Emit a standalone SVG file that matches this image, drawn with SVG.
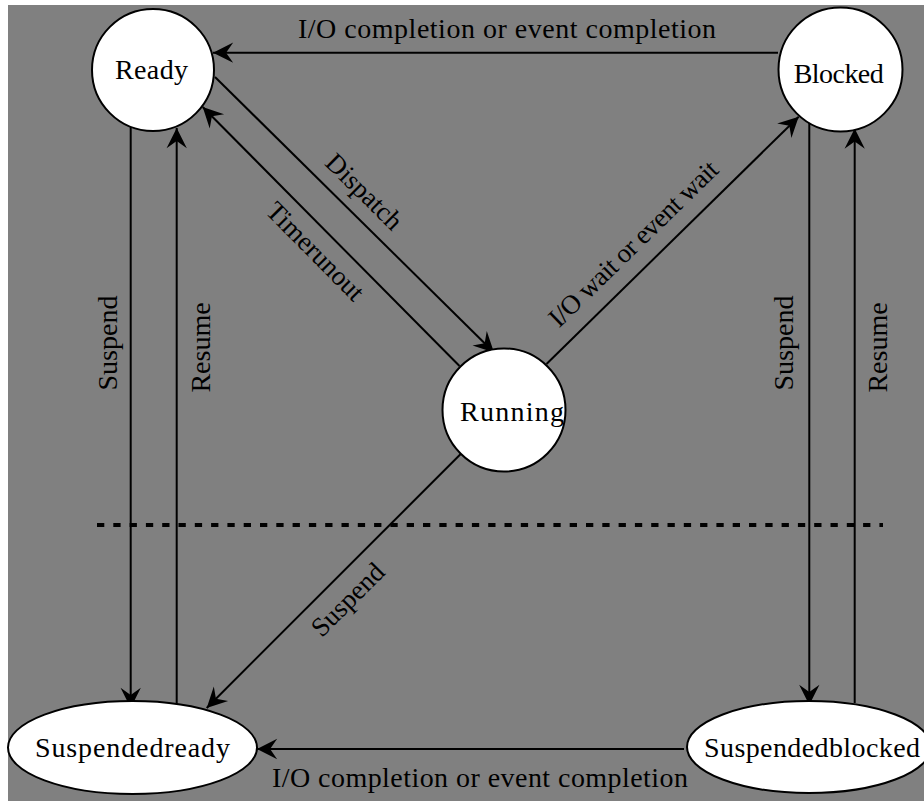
<svg xmlns="http://www.w3.org/2000/svg" width="924" height="801" viewBox="0 0 924 801">
<defs>
<style>
text{font-family:"Liberation Serif","Times New Roman",serif;font-size:28px;fill:#000}
.dl{font-size:27px}
.node{fill:#fff;stroke:#000;stroke-width:2}
.edge{stroke:#000;stroke-width:2;fill:none}
</style>
<marker id="arr" markerUnits="userSpaceOnUse" markerWidth="24" markerHeight="24" viewBox="-20 -10 22 20" refX="0" refY="0" orient="auto">
<path d="M0,0 L-18.5,-9.3 L-12,0 L-18.5,9.3 Z" fill="#000"/>
</marker>
</defs>
<rect x="0" y="0" width="924" height="801" fill="#fff"/>
<rect x="8" y="5" width="916" height="796" fill="#808080"/>
<line x1="97" y1="525" x2="883" y2="525" stroke="#000" stroke-width="4" stroke-dasharray="7.3 9"/>
<g id="connectors">
<line class="edge" x1="778" y1="52.7" x2="213" y2="52.7" marker-end="url(#arr)"/>
<line class="edge" x1="130.7" y1="126" x2="130.7" y2="708" marker-end="url(#arr)"/>
<line class="edge" x1="176.7" y1="704" x2="176.7" y2="128" marker-end="url(#arr)"/>
<line class="edge" x1="809.3" y1="122" x2="809.3" y2="705" marker-end="url(#arr)"/>
<line class="edge" x1="854.7" y1="703" x2="854.7" y2="128.5" marker-end="url(#arr)"/>
<line class="edge" x1="215" y1="77" x2="494" y2="352.5" marker-end="url(#arr)"/>
<line class="edge" x1="459.5" y1="366" x2="202.7" y2="107" marker-end="url(#arr)"/>
<line class="edge" x1="546.5" y1="364" x2="798.7" y2="116.7" marker-end="url(#arr)"/>
<line class="edge" x1="461.7" y1="453" x2="206.7" y2="708" marker-end="url(#arr)"/>
<line class="edge" x1="684" y1="749" x2="257" y2="749" marker-end="url(#arr)"/>
<text x="507" y="38" text-anchor="middle" textLength="418">I/O completion or event completion</text>
<text x="480" y="787" text-anchor="middle" textLength="416">I/O completion or event completion</text>
<text transform="translate(117,343) rotate(-90)" text-anchor="middle">Suspend</text>
<text transform="translate(210,347.5) rotate(-90)" text-anchor="middle">Resume</text>
<text transform="translate(793,343) rotate(-90)" text-anchor="middle">Suspend</text>
<text transform="translate(887,347.5) rotate(-90)" text-anchor="middle">Resume</text>
<text class="dl" transform="translate(358,198) rotate(44.6)" text-anchor="middle">Dispatch</text>
<text class="dl" transform="translate(309,257.5) rotate(45.3)" text-anchor="middle">Timerunout</text>
<text class="dl" transform="translate(639.5,250) rotate(-44.3)" text-anchor="middle" textLength="225">I/O wait or event wait</text>
<text class="dl" transform="translate(354,606) rotate(-45)" text-anchor="middle">Suspend</text>
</g>
<g id="ready">
<circle class="node" cx="153" cy="70" r="61"/>
<text x="151.5" y="79" text-anchor="middle" textLength="73">Ready</text>
</g>
<g id="blocked">
<circle class="node" cx="840.5" cy="69.5" r="62"/>
<text x="838.7" y="83" text-anchor="middle" textLength="90">Blocked</text>
</g>
<g id="running">
<circle class="node" cx="504" cy="410" r="61.5"/>
<text x="460" y="421" textLength="104">Running</text>
</g>
<g id="suspendedready">
<ellipse class="node" cx="132.5" cy="747.5" rx="124.5" ry="46.5"/>
<text x="132.5" y="757" text-anchor="middle" textLength="195">Suspendedready</text>
</g>
<g id="suspendedblocked">
<ellipse class="node" cx="809" cy="747" rx="122" ry="46"/>
<text x="812" y="757" text-anchor="middle" textLength="216">Suspendedblocked</text>
</g>
</svg>
